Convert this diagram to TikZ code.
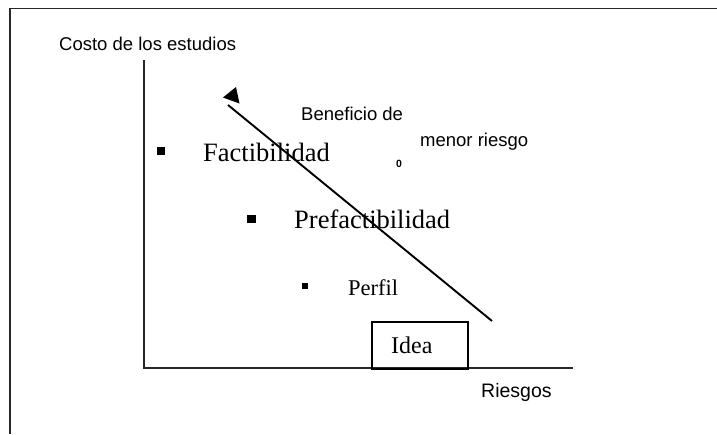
\documentclass[tikz,border=0pt]{standalone}
\usepackage{fontspec}
\setmainfont{Liberation Serif}
\setsansfont{Liberation Sans}
\begin{document}
\begin{tikzpicture}[x=1pt,y=-1pt,
  frameline/.style={draw=black!85,line width=1.8pt},
  axisline/.style={draw=black!85,line width=1.5pt},
  sanslabel/.style={inner sep=0pt,anchor=base west,font=\sffamily\fontsize{18.5}{20}\selectfont},
  bigserif/.style={inner sep=0pt,anchor=base west,font=\fontsize{26.5}{28}\selectfont},
  bulletsq/.style={fill=black,draw=none,minimum size=#1,inner sep=0pt},
  ideabox/.style={draw=black,line width=1.7pt,inner sep=0pt,minimum width=96pt,minimum height=47pt,anchor=north west}
]
\useasboundingbox (0,0) rectangle (717,434);
% outer frame
\coordinate (ftr) at (717,8.5);
\coordinate (ftl) at (10,8.5);
\coordinate (fbl) at (10,434);
\draw[frameline] (ftr) -- (ftl) -- (fbl);
% axes
\coordinate (ytop) at (144,60);
\coordinate (orig) at (144,368);
\coordinate (xend) at (573,368);
\draw[axisline] (ytop) -- (orig) -- (xend);
% labels
\node[sanslabel] (costo) at (59,50) {Costo de los estudios};
\node[sanslabel,font=\sffamily\fontsize{19.5}{21}\selectfont] (riesgos) at (481,397) {Riesgos};
\node[sanslabel] (benef) at (301,120) {Beneficio de};
\node[sanslabel] (menor) at (420,146) {menor riesgo};
\node[inner sep=0pt,font=\sffamily\bfseries\fontsize{10.5}{11}\selectfont] (zero) at (399,164) {0};
% stages
\node[bulletsq=8pt] (b1) at (161,150.5) {};
\node[bigserif] (fact) at (203,161) {Factibilidad};
\node[bulletsq=8.5pt] (b2) at (251.5,219) {};
\node[bigserif] (prefact) at (294,228) {Prefactibilidad};
\node[bulletsq=6.5pt] (b3) at (305,286) {};
\node[inner sep=0pt,anchor=base west,font=\fontsize{22.5}{24}\selectfont] (perfil) at (348,295) {Perfil};
\node[ideabox] (ideab) at (371,321) {};
\node[inner sep=0pt,anchor=base west,font=\fontsize{24}{26}\selectfont] (idea) at (391,353) {Idea};
% diagonal arrow
\coordinate (dstart) at (492,321);
\coordinate (dend) at (228,105);
\draw[line width=1.9pt] (dstart) -- (dend);
\coordinate (ta) at (236,87);
\coordinate (tb) at (223,97.5);
\coordinate (tc) at (239.5,103.5);
\fill[black] (ta) -- (tb) -- (tc) -- cycle;
\end{tikzpicture}
\end{document}
